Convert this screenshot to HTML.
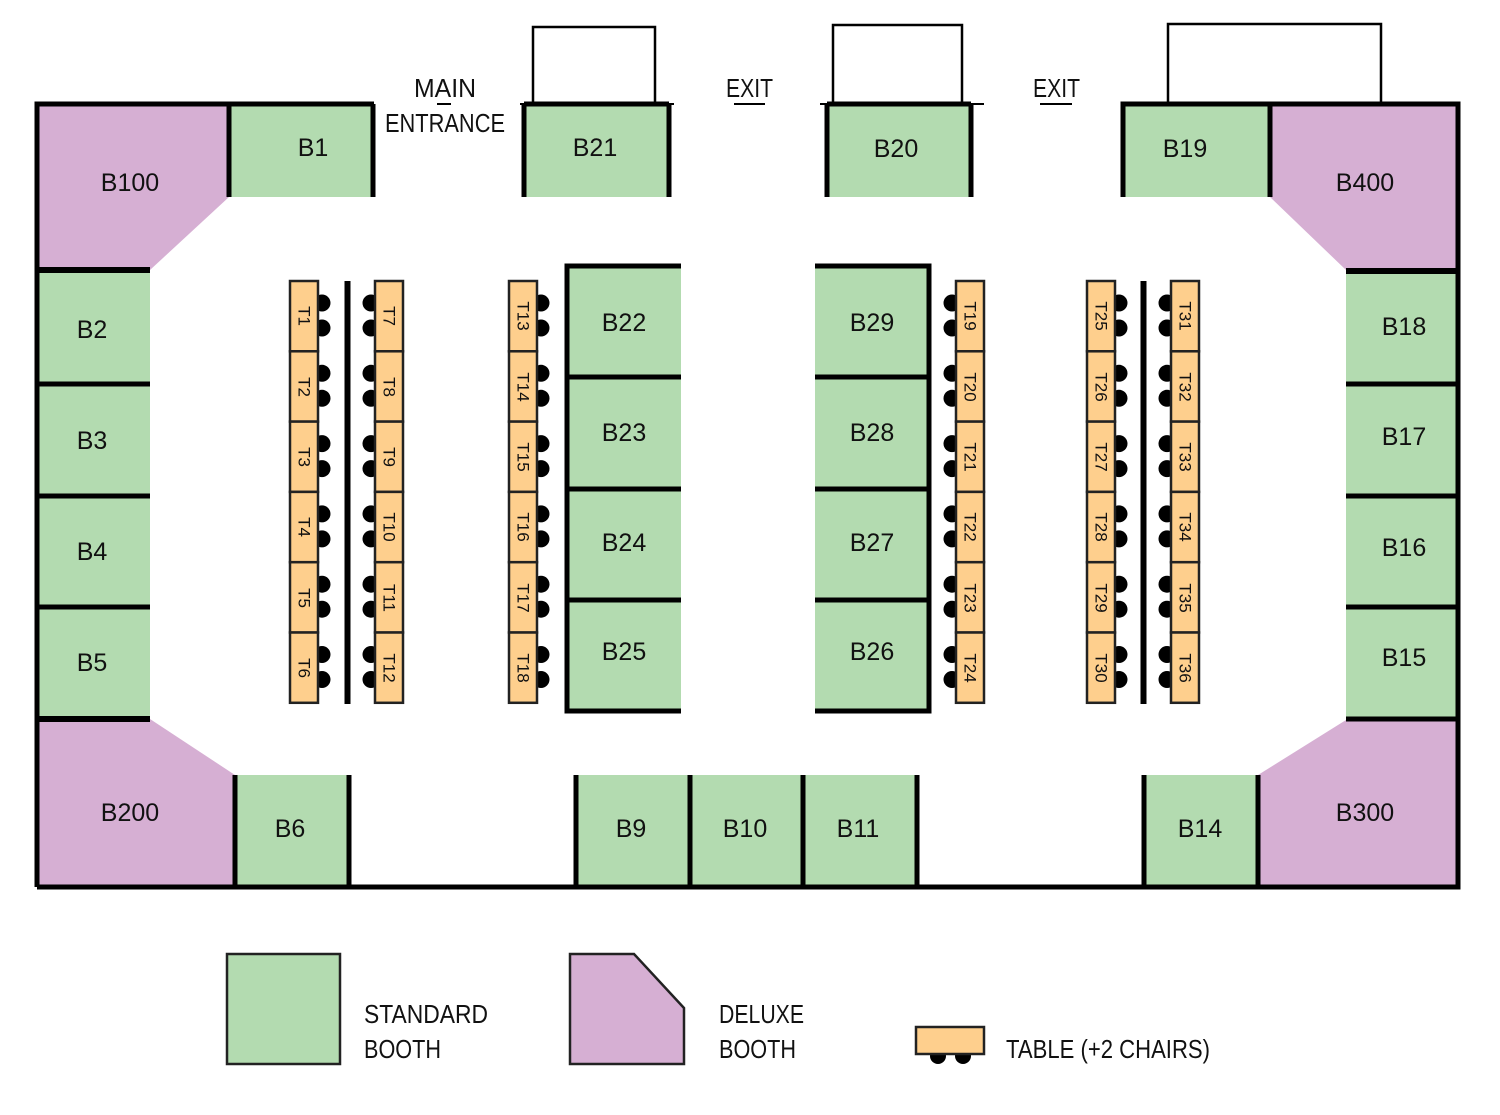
<!DOCTYPE html>
<html><head><meta charset="utf-8"><style>
html,body{margin:0;padding:0;background:#fff}
svg{display:block}
.b{font-family:"Liberation Sans",sans-serif;font-size:25px;fill:#111;text-anchor:middle;dominant-baseline:central}
.t{font-family:"Liberation Sans",sans-serif;font-size:17px;fill:#111;text-anchor:middle;dominant-baseline:central}
.l{font-family:"Liberation Sans",sans-serif;font-size:26px;fill:#111}
</style></head><body>
<svg width="1500" height="1115" viewBox="0 0 1500 1115" xmlns="http://www.w3.org/2000/svg">
<defs>
<g id="tr"><circle cx="32" cy="22" r="8.5" fill="#000"/><circle cx="32" cy="47" r="8.5" fill="#000"/><rect x="0" y="0" width="28" height="70.3" fill="#fecf8d" stroke="#222" stroke-width="2.5"/></g>
<g id="tl"><circle cx="-4" cy="22" r="8.5" fill="#000"/><circle cx="-4" cy="47" r="8.5" fill="#000"/><rect x="0" y="0" width="28" height="70.3" fill="#fecf8d" stroke="#222" stroke-width="2.5"/></g>
</defs>
<rect x="533" y="27" width="122" height="77" fill="#fff" stroke="#000" stroke-width="2.5"/>
<rect x="833" y="25" width="129" height="79" fill="#fff" stroke="#000" stroke-width="2.5"/>
<rect x="1168" y="24" width="213" height="80" fill="#fff" stroke="#000" stroke-width="2.5"/>
<g fill="#b3dbb0">
<rect x="229" y="104" width="144" height="93"/>
<rect x="524" y="104" width="146" height="93"/>
<rect x="826" y="104" width="146" height="93"/>
<rect x="1123" y="104" width="147" height="93"/>
<rect x="37" y="270" width="113" height="449"/>
<rect x="1346" y="270" width="112" height="449"/>
<rect x="235" y="775" width="114" height="110"/>
<rect x="576" y="775" width="341" height="110"/>
<rect x="1144" y="775" width="114" height="110"/>
<rect x="567" y="265" width="114" height="447"/>
<rect x="815" y="265" width="114" height="447"/>
</g>
<g fill="#d6afd3">
<polygon points="37,104 229,104 229,197 150,270 37,270"/>
<polygon points="1270,104 1458,104 1458,270 1346,270 1270,197"/>
<polygon points="37,719 150,719 235,775 235,887 37,887"/>
<polygon points="1346,720 1458,720 1458,887 1258,887 1258,775"/>
</g>
<g stroke="#000" stroke-width="5" fill="none">
<polyline points="37,887 37,104 374,104"/>
<line x1="373" y1="104" x2="373" y2="197"/>
<line x1="229" y1="104" x2="229" y2="197"/>
<polyline points="1123,197 1123,104 1458,104 1458,887 37,887"/>
<line x1="1270" y1="104" x2="1270" y2="197"/>
<line x1="524" y1="104" x2="524" y2="197"/>
<line x1="669" y1="104" x2="669" y2="197"/>
<line x1="524" y1="104" x2="669" y2="104"/>
<line x1="827" y1="104" x2="827" y2="197"/>
<line x1="971" y1="104" x2="971" y2="197"/>
<line x1="827" y1="104" x2="971" y2="104"/>
<line x1="37" y1="270" x2="150" y2="270" stroke-width="6"/>
<line x1="37" y1="384" x2="150" y2="384"/>
<line x1="37" y1="496" x2="150" y2="496"/>
<line x1="37" y1="607" x2="150" y2="607"/>
<line x1="37" y1="719" x2="150" y2="719" stroke-width="6"/>
<line x1="1346" y1="271" x2="1458" y2="271" stroke-width="6"/>
<line x1="1346" y1="384" x2="1458" y2="384"/>
<line x1="1346" y1="496" x2="1458" y2="496"/>
<line x1="1346" y1="607" x2="1458" y2="607"/>
<line x1="1346" y1="719" x2="1458" y2="719"/>
<line x1="235" y1="775" x2="235" y2="887"/>
<line x1="349" y1="775" x2="349" y2="885"/>
<line x1="576" y1="775" x2="576" y2="885"/>
<line x1="690" y1="775" x2="690" y2="885"/>
<line x1="803" y1="775" x2="803" y2="885"/>
<line x1="917" y1="775" x2="917" y2="885"/>
<line x1="1144" y1="775" x2="1144" y2="885"/>
<line x1="1258" y1="775" x2="1258" y2="887"/>
<polyline points="681,266 567,266 567,711 681,711"/>
<line x1="567" y1="377" x2="681" y2="377"/>
<line x1="567" y1="489" x2="681" y2="489"/>
<line x1="567" y1="600" x2="681" y2="600"/>
<polyline points="815,266 929,266 929,711 815,711"/>
<line x1="815" y1="377" x2="929" y2="377"/>
<line x1="815" y1="489" x2="929" y2="489"/>
<line x1="815" y1="600" x2="929" y2="600"/>
<line x1="347.5" y1="281" x2="347.5" y2="704" stroke-width="6"/>
<line x1="1143.5" y1="281" x2="1143.5" y2="704" stroke-width="6"/>
</g>
<g stroke="#000" stroke-width="2"><line x1="520" y1="104" x2="674" y2="104"/><line x1="820" y1="104" x2="984" y2="104"/>
<line x1="437" y1="104" x2="451" y2="104"/><line x1="734" y1="104" x2="765" y2="104"/><line x1="1040" y1="104" x2="1072" y2="104"/></g>
<text class="b" x="130" y="183">B100</text><text class="b" x="313" y="148">B1</text>
<text class="b" x="595" y="148">B21</text><text class="b" x="896" y="149">B20</text>
<text class="b" x="1185" y="149">B19</text><text class="b" x="1365" y="183">B400</text>
<text class="b" x="92" y="330">B2</text><text class="b" x="92" y="441">B3</text><text class="b" x="92" y="552">B4</text><text class="b" x="92" y="663">B5</text>
<text class="b" x="1404" y="327">B18</text><text class="b" x="1404" y="437">B17</text><text class="b" x="1404" y="548">B16</text><text class="b" x="1404" y="658">B15</text>
<text class="b" x="624" y="323">B22</text><text class="b" x="624" y="433">B23</text><text class="b" x="624" y="543">B24</text><text class="b" x="624" y="652">B25</text>
<text class="b" x="872" y="323">B29</text><text class="b" x="872" y="433">B28</text><text class="b" x="872" y="543">B27</text><text class="b" x="872" y="652">B26</text>
<text class="b" x="130" y="813">B200</text><text class="b" x="290" y="829">B6</text><text class="b" x="631" y="829">B9</text><text class="b" x="745" y="829">B10</text><text class="b" x="858" y="829">B11</text><text class="b" x="1200" y="829">B14</text><text class="b" x="1365" y="813">B300</text>
<text class="l" x="414" y="97" textLength="62" lengthAdjust="spacingAndGlyphs">MAIN</text>
<text class="l" x="385" y="132" textLength="120" lengthAdjust="spacingAndGlyphs">ENTRANCE</text>
<text class="l" x="726" y="97" textLength="47" lengthAdjust="spacingAndGlyphs">EXIT</text>
<text class="l" x="1033" y="97" textLength="47" lengthAdjust="spacingAndGlyphs">EXIT</text>
<g>
<use href="#tr" x="290" y="281"/><use href="#tr" x="290" y="351.3"/><use href="#tr" x="290" y="421.6"/><use href="#tr" x="290" y="491.9"/><use href="#tr" x="290" y="562.2"/><use href="#tr" x="290" y="632.5"/>
<use href="#tl" x="375" y="281"/><use href="#tl" x="375" y="351.3"/><use href="#tl" x="375" y="421.6"/><use href="#tl" x="375" y="491.9"/><use href="#tl" x="375" y="562.2"/><use href="#tl" x="375" y="632.5"/>
<use href="#tr" x="509" y="281"/><use href="#tr" x="509" y="351.3"/><use href="#tr" x="509" y="421.6"/><use href="#tr" x="509" y="491.9"/><use href="#tr" x="509" y="562.2"/><use href="#tr" x="509" y="632.5"/>
<use href="#tl" x="956" y="281"/><use href="#tl" x="956" y="351.3"/><use href="#tl" x="956" y="421.6"/><use href="#tl" x="956" y="491.9"/><use href="#tl" x="956" y="562.2"/><use href="#tl" x="956" y="632.5"/>
<use href="#tr" x="1087" y="281"/><use href="#tr" x="1087" y="351.3"/><use href="#tr" x="1087" y="421.6"/><use href="#tr" x="1087" y="491.9"/><use href="#tr" x="1087" y="562.2"/><use href="#tr" x="1087" y="632.5"/>
<use href="#tl" x="1171" y="281"/><use href="#tl" x="1171" y="351.3"/><use href="#tl" x="1171" y="421.6"/><use href="#tl" x="1171" y="491.9"/><use href="#tl" x="1171" y="562.2"/><use href="#tl" x="1171" y="632.5"/>
</g>
<g>
<text class="t" transform="translate(304,316) rotate(90)">T1</text><text class="t" transform="translate(304,387) rotate(90)">T2</text><text class="t" transform="translate(304,457) rotate(90)">T3</text><text class="t" transform="translate(304,527) rotate(90)">T4</text><text class="t" transform="translate(304,598) rotate(90)">T5</text><text class="t" transform="translate(304,668) rotate(90)">T6</text>
<text class="t" transform="translate(389,316) rotate(90)">T7</text><text class="t" transform="translate(389,387) rotate(90)">T8</text><text class="t" transform="translate(389,457) rotate(90)">T9</text><text class="t" transform="translate(389,527) rotate(90)">T10</text><text class="t" transform="translate(389,598) rotate(90)">T11</text><text class="t" transform="translate(389,668) rotate(90)">T12</text>
<text class="t" transform="translate(523,316) rotate(90)">T13</text><text class="t" transform="translate(523,387) rotate(90)">T14</text><text class="t" transform="translate(523,457) rotate(90)">T15</text><text class="t" transform="translate(523,527) rotate(90)">T16</text><text class="t" transform="translate(523,598) rotate(90)">T17</text><text class="t" transform="translate(523,668) rotate(90)">T18</text>
<text class="t" transform="translate(970,316) rotate(90)">T19</text><text class="t" transform="translate(970,387) rotate(90)">T20</text><text class="t" transform="translate(970,457) rotate(90)">T21</text><text class="t" transform="translate(970,527) rotate(90)">T22</text><text class="t" transform="translate(970,598) rotate(90)">T23</text><text class="t" transform="translate(970,668) rotate(90)">T24</text>
<text class="t" transform="translate(1101,316) rotate(90)">T25</text><text class="t" transform="translate(1101,387) rotate(90)">T26</text><text class="t" transform="translate(1101,457) rotate(90)">T27</text><text class="t" transform="translate(1101,527) rotate(90)">T28</text><text class="t" transform="translate(1101,598) rotate(90)">T29</text><text class="t" transform="translate(1101,668) rotate(90)">T30</text>
<text class="t" transform="translate(1185,316) rotate(90)">T31</text><text class="t" transform="translate(1185,387) rotate(90)">T32</text><text class="t" transform="translate(1185,457) rotate(90)">T33</text><text class="t" transform="translate(1185,527) rotate(90)">T34</text><text class="t" transform="translate(1185,598) rotate(90)">T35</text><text class="t" transform="translate(1185,668) rotate(90)">T36</text>
</g>
<rect x="227" y="954" width="113" height="110" fill="#b3dbb0" stroke="#222" stroke-width="2.5"/>
<text class="l" x="364" y="1023" textLength="124" lengthAdjust="spacingAndGlyphs">STANDARD</text>
<text class="l" x="364" y="1058" textLength="77" lengthAdjust="spacingAndGlyphs">BOOTH</text>
<polygon points="570,954 634,954 684,1008 684,1064 570,1064" fill="#d6afd3" stroke="#222" stroke-width="2.5"/>
<text class="l" x="719" y="1023" textLength="85" lengthAdjust="spacingAndGlyphs">DELUXE</text>
<text class="l" x="719" y="1058" textLength="77" lengthAdjust="spacingAndGlyphs">BOOTH</text>
<circle cx="938" cy="1056" r="8" fill="#000"/><circle cx="963" cy="1056" r="8" fill="#000"/>
<rect x="916" y="1027" width="68" height="27" fill="#fecf8d" stroke="#222" stroke-width="2.5"/>
<text class="l" x="1006" y="1058" textLength="204" lengthAdjust="spacingAndGlyphs">TABLE (+2 CHAIRS)</text>
</svg>
</body></html>
